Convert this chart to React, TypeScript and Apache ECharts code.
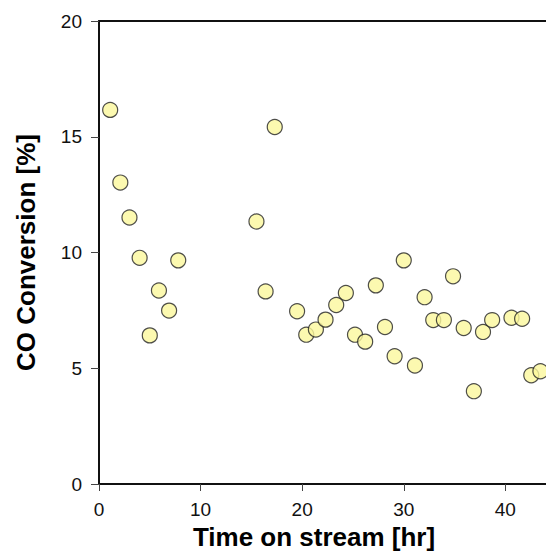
import React, { useEffect, useRef } from "react";
import * as echarts from "echarts";

const timeHr: number[] = [
  1.1, 2.1, 3.0, 4.0, 5.0, 5.9, 6.9, 7.8, 15.5, 16.4, 17.3, 19.5, 20.4, 21.35,
  22.3, 23.35, 24.3, 25.2, 26.2, 27.25, 28.15, 29.1, 30.0, 31.1, 32.05, 32.9,
  33.95, 34.85, 35.9, 36.9, 37.8, 38.7, 40.6, 41.65, 42.55, 43.45,
];
const coConversion: number[] = [
  16.16, 13.02, 11.51, 9.77, 6.42, 8.36, 7.49, 9.66, 11.34, 8.32, 15.42, 7.46,
  6.45, 6.67, 7.1, 7.73, 8.25, 6.45, 6.15, 8.58, 6.78, 5.52, 9.66, 5.12, 8.07,
  7.08, 7.08, 8.97, 6.74, 4.01, 6.57, 7.08, 7.18, 7.14, 4.7, 4.87,
];
const xTickValues: number[] = [0, 10, 20, 30, 40];
const xTitle = "Time on stream [hr]";
const yTitle = "CO Conversion [%]";

const FONT = "'Liberation Sans', Arial, Helvetica, sans-serif";

export default function App() {
  const ref = useRef<HTMLDivElement>(null);
  useEffect(() => {
    if (!ref.current) return;
    const chart = echarts.init(ref.current, undefined, { renderer: "svg" });
    const points = timeHr.map((t, i) => [t, coConversion[i]]);
    chart.setOption({
      animation: false,
      backgroundColor: "#ffffff",
      grid: { left: 99, right: 0, top: 21, bottom: 71, containLabel: false },
      xAxis: [
        {
          type: "value",
          min: 0,
          max: 44,
          interval: 10,
          position: "bottom",
          name: xTitle,
          nameLocation: "middle",
          nameGap: 36,
          nameTextStyle: {
            fontFamily: FONT,
            fontSize: 26,
            fontWeight: "bold",
            color: "#000",
            padding: [0, 17, 0, 0],
          },
          axisLine: { show: true, lineStyle: { color: "#111", width: 2 } },
          axisTick: {
            show: true,
            length: 7,
            customValues: xTickValues,
            lineStyle: { color: "#444", width: 1 },
          },
          axisLabel: {
            customValues: xTickValues,
            margin: 16,
            fontFamily: FONT,
            fontSize: 19,
            color: "#111",
          },
          splitLine: { show: false },
        },
        {
          type: "value",
          min: 0,
          max: 44,
          position: "top",
          axisLine: { show: true, lineStyle: { color: "#111", width: 2 } },
          axisTick: { show: false },
          axisLabel: { show: false },
          splitLine: { show: false },
        },
      ],
      yAxis: {
        type: "value",
        min: 0,
        max: 20,
        interval: 5,
        name: yTitle,
        nameLocation: "middle",
        nameGap: 60,
        nameTextStyle: {
          fontFamily: FONT,
          fontSize: 26,
          fontWeight: "bold",
          color: "#000",
        },
        axisLine: { show: true, lineStyle: { color: "#111", width: 2 } },
        axisTick: { show: true, length: 8, lineStyle: { color: "#444", width: 1 } },
        axisLabel: { margin: 17, fontFamily: FONT, fontSize: 19, color: "#111" },
        splitLine: { show: false },
      },
      series: [
        {
          type: "scatter",
          data: points,
          symbol: "circle",
          symbolSize: 15,
          itemStyle: { color: "#FBF79C", borderColor: "#222", borderWidth: 1.2 },
        },
      ],
    });
    return () => chart.dispose();
  }, []);
  return (
    <div
      ref={ref}
      style={{ position: "fixed", left: 0, top: 0, width: 546, height: 555 }}
    />
  );
}
